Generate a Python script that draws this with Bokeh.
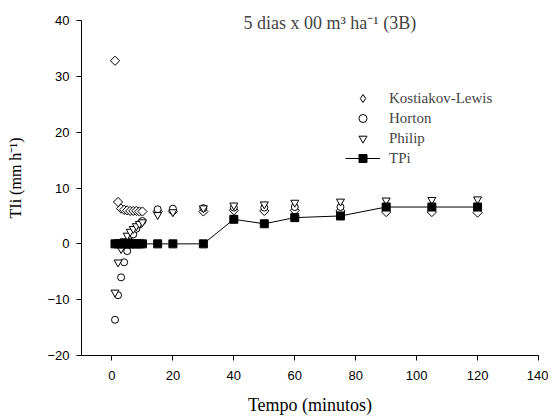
"""Infiltration rate models vs. measured TPi (5 dias x 00 m3 ha-1, 3B)"""
from math import pi

from bokeh.embed import file_html
from bokeh.models import ColumnDataSource, FixedTicker, Label, Legend, LegendItem, Range1d
from bokeh.plotting import figure
from bokeh.resources import INLINE

SERIF = "Liberation Serif"
SANS = "Liberation Sans"

# data
tempo = [1, 2, 3, 4, 5, 6, 7, 8, 9, 10, 15, 20, 30, 40, 50, 60, 75, 90, 105, 120]
kostiakov = [32.8, 7.5, 6.3, 6.1, 6.0, 5.9, 5.9, 5.9, 5.8, 5.8,
             5.8, 5.8, 5.8, 6.0, 5.9, 6.0, 5.9, 5.7, 5.7, 5.6]
horton = [-13.6, -9.2, -6.0, -3.3, -1.3, 0.4, 1.7, 2.7, 3.5, 4.1,
          6.2, 6.3, 6.4, 6.5, 6.5, 6.6, 6.6, 6.6, 6.6, 6.6]
philip = [-8.7, -3.3, -0.9, 0.5, 1.5, 2.2, 2.7, 3.2, 3.6, 3.9,
          5.2, 5.7, 6.4, 6.9, 7.1, 7.4, 7.6, 7.8, 7.9, 8.0]
tpi = [0, 0, 0, 0, 0, 0, 0, 0, 0, 0,
       0, 0, 0, 4.4, 3.6, 4.7, 5.0, 6.6, 6.6, 6.6]

x_ticks = [0, 20, 40, 60, 80, 100, 120, 140]
y_ticks = [-20, -10, 0, 10, 20, 30, 40]

source = ColumnDataSource(data=dict(t=tempo, kl=kostiakov, ho=horton, ph=philip, tpi=tpi))

# y range runs a little past 40 so the title fits inside the frame;
# the axis line itself stops at 40 (bounds below)
p = figure(
    width=548,
    height=419,
    x_range=Range1d(-10, 140),
    y_range=Range1d(-20, 43.6),
    x_axis_label="Tempo (minutos)",
    y_axis_label="TIi (mm h\u207b\u00b9)",
    output_backend="svg",
    toolbar_location=None,
    tools="",
    min_border_left=81,
    min_border_right=10,
    min_border_top=0,
    min_border_bottom=64,
)

kl = p.scatter("t", "kl", source=source, marker="square", angle=pi / 4, size=6.5,
               fill_color="white", line_color="black", line_width=1)
ho = p.scatter("t", "ho", source=source, marker="circle", size=7,
               fill_color="white", line_color="black", line_width=1)
ph = p.scatter("t", "ph", source=source, marker="inverted_triangle", size=8,
               fill_color="white", line_color="black", line_width=1)
tl = p.line("t", "tpi", source=source, line_color="black", line_width=1)
ts = p.scatter("t", "tpi", source=source, marker="square", size=8,
               fill_color="black", line_color="black")

# legend draws markers unrotated, so give it a diamond key of its own
# (a single NaN row: nothing shows in the plot, only in the legend)
kl_key = p.scatter(x=[float("nan")], y=[float("nan")], marker="diamond",
                   fill_color="white", line_color="black", line_width=1)

legend = Legend(
    items=[
        LegendItem(label="Kostiakov-Lewis", renderers=[kl_key]),
        LegendItem(label="Horton", renderers=[ho]),
        LegendItem(label="Philip", renderers=[ph]),
        LegendItem(label="TPi", renderers=[tl, ts]),
    ],
    location=(264, 187),
    glyph_width=35,
    glyph_height=20,
    label_height=20,
    spacing=0,
    padding=0,
    margin=0,
    label_standoff=9,
    background_fill_alpha=0,
    border_line_alpha=0,
    label_text_font=SERIF,
    label_text_font_size="15px",
)
p.add_layout(legend)

p.add_layout(Label(x=71.5, y=39.6, text="5 dias x 00 m\u00b3 ha\u207b\u00b9 (3B)",
                   text_align="center", text_baseline="middle",
                   text_font=SERIF, text_font_size="18px"))

# axes
p.xaxis.ticker = FixedTicker(ticks=x_ticks)
p.yaxis.ticker = FixedTicker(ticks=y_ticks)
p.yaxis.bounds = (-20, 40)
p.axis.minor_tick_line_color = None
p.axis.major_tick_in = 0
p.axis.major_tick_out = 5
p.axis.axis_line_color = "black"
p.axis.major_tick_line_color = "black"
p.axis.major_label_text_font = SANS
p.axis.major_label_text_font_size = "13px"
p.axis.major_label_text_color = "black"
p.axis.axis_label_text_font = SERIF
p.axis.axis_label_text_font_style = "normal"
p.axis.axis_label_text_color = "black"
p.xaxis.axis_label_text_font_size = "18px"
p.yaxis.axis_label_text_font_size = "16px"
p.xaxis.major_label_standoff = 10
p.xaxis.axis_label_standoff = 12
p.yaxis.major_label_standoff = 7
p.yaxis.axis_label_standoff = 20

p.grid.grid_line_color = None
p.outline_line_color = None

open("out.html", "w").write(file_html(p, INLINE))
